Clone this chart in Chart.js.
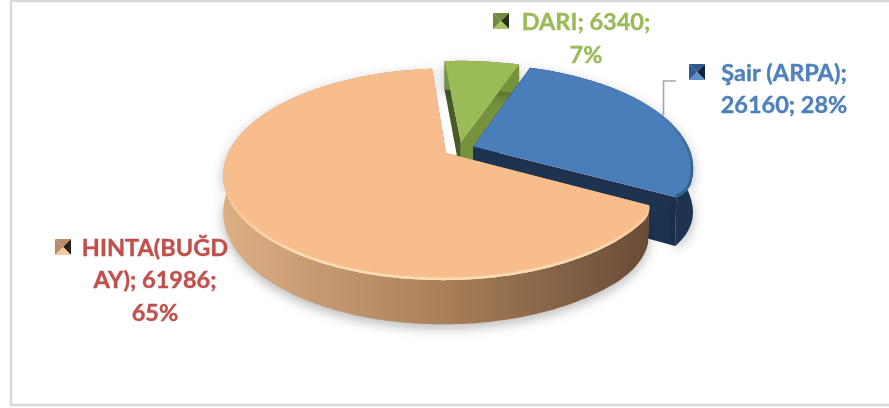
<!DOCTYPE html>
<html><head><meta charset="utf-8">
<style>html,body{margin:0;padding:0;background:#fff}canvas{display:block}</style>
<script src="https://cdn.jsdelivr.net/npm/chart.js@4"></script>
</head><body><canvas id="c" width="889" height="408"></canvas>
<script>
const categories = ['HINTA(BUĞDAY)', 'DARI', 'Şair (ARPA)'];
const values = [61986, 6340, 26160];
const percents = [65, 7, 28];
const labelLines = [
  ['HINTA(BUĞD', 'AY); 61986;', '65%'],
  ['DARI; 6340;', '7%'],
  ['Şair (ARPA);', '26160; 28%']
];
const startDegrees = 118.7;

const VIEW = {cx: 459, cy: 149, B: 216, A: 100, p: 0.2, T: 35};
const STYLE = [
  {top:'#f7bd8c', cut:'#a8825f', text:'#c0504d', rim:'#fddcb0', taper:[1,0], depth:1},
  {top:'#9bbb59', cut:'#76923c', cut2:'#4a5a25', text:'#9bbb59', rim:null, taper:[0,0], depth:1},
  {top:'#4a7ebb', cut:'#1d3350', text:'#4f81bd', rim:'#34618f', taper:[0,1], depth:1.28}
];
const LABELS = [
  {x:155, ys:[256,288,321], mx:55, my:239, dark:'#2b2118', mid:'#b98c67', hi:'#f7c99c'},
  {x:586, ys:[30,63], mx:493, my:13, dark:'#29331a', mid:'#6f8a3c', hi:'#a6c566'},
  {x:784, ys:[81,113], mx:689, my:64, dark:'#13233a', mid:'#2f5a8c', hi:'#5d8fc9'}
];

function proj(u, v, z) {
  const w = 1 - VIEW.p * v;
  return [VIEW.cx + VIEW.B * u / w, VIEW.cy + VIEW.A * v / w + (z || 0) * VIEW.T / w];
}
function rounded(a, start, end, taper, delta, k) {
  let r = 1;
  if (taper[0] && a - start < delta) r -= k * Math.pow(1 - (a - start) / delta, 2);
  if (taper[1] && end - a < delta) r -= k * Math.pow(1 - (end - a) / delta, 2);
  return r;
}
function slicePts(arc, i) {
  const mid = (arc.startAngle + arc.endAngle) / 2;
  const d = (arc.options.offset || 0) / arc.outerRadius;
  const ou = d * Math.cos(mid), ov = d * Math.sin(mid);
  const n = Math.max(16, Math.round((arc.endAngle - arc.startAngle) * 60));
  const rim = [], low = [], taper = STYLE[i].taper;
  for (let k = 0; k <= n; k++) {
    const a = arc.startAngle + (arc.endAngle - arc.startAngle) * k / n;
    const r1 = rounded(a, arc.startAngle, arc.endAngle, taper, 0.14, 0.03);
    const r2 = rounded(a, arc.startAngle, arc.endAngle, taper, 0.35, 0.035);
    rim.push([ou + r1 * Math.cos(a), ov + r1 * Math.sin(a)]);
    low.push([ou + r2 * Math.cos(a), ov + r2 * Math.sin(a)]);
  }
  return {apex: [ou, ov], rim, low};
}
function poly(ctx, pts) {
  ctx.beginPath();
  pts.forEach((q, i) => i ? ctx.lineTo(q[0], q[1]) : ctx.moveTo(q[0], q[1]));
  ctx.closePath();
}
function marker(ctx, L) {
  const s = 16, x = L.mx, y = L.my, c = [x + s/2, y + s/2];
  const tri = (a, b, col) => { poly(ctx, [a, b, c]); ctx.fillStyle = col; ctx.fill(); };
  tri([x,y],[x+s,y],L.mid);
  tri([x+s,y],[x+s,y+s],L.dark);
  tri([x,y+s],[x+s,y+s],L.hi);
  tri([x,y],[x,y+s],L.mid);
}
const pie3d = {
  id: 'pie3d',
  beforeDatasetsDraw(chart) {
    const ctx = chart.ctx, arcs = chart.getDatasetMeta(0).data;
    const slices = arcs.map(slicePts);
    ctx.save();
    // frame
    ctx.strokeStyle = '#d9d9d9'; ctx.lineWidth = 2.5;
    ctx.strokeRect(11, 1, 884, 404);
    // leader line
    ctx.strokeStyle = '#a6a6a6'; ctx.lineWidth = 1.6;
    ctx.beginPath(); ctx.moveTo(663.5,115); ctx.lineTo(663.5,81); ctx.lineTo(676,81); ctx.stroke();
    // painter order: back to front
    [1, 2, 0].forEach(i => {
      const S = slices[i], st = STYLE[i];
      const top = S.rim.map(q => proj(q[0], q[1], 0));
      const low = S.low.map(q => proj(q[0], q[1], st.depth));
      const a0 = proj(S.apex[0], S.apex[1], 0), a1 = proj(S.apex[0], S.apex[1], st.depth);
      // cut faces behind the wall
      const first = top[0], firstL = low[0], last = top[top.length-1], lastL = low[low.length-1];
      poly(ctx, [a0, first, firstL, a1]); ctx.fillStyle = (i === 1 ? st.cut2 : st.cut); ctx.fill();
      poly(ctx, [a0, last, lastL, a1]); ctx.fillStyle = st.cut; ctx.fill();
      // outer wall
      ctx.save();
      ctx.shadowColor = 'rgba(0,0,0,0.28)'; ctx.shadowBlur = 12; ctx.shadowOffsetY = 4;
      poly(ctx, top.concat(low.slice().reverse()));
      let g;
      if (i === 0) {
        g = ctx.createLinearGradient(225,0,660,0);
        g.addColorStop(0,'#dcae84'); g.addColorStop(0.5,'#a98059'); g.addColorStop(1,'#654835');
      } else g = st.cut;
      ctx.fillStyle = g; ctx.fill();
      ctx.restore();
      // top face
      poly(ctx, [a0].concat(top)); ctx.fillStyle = st.top; ctx.fill();
      // bevelled rim, on the front part only
      if (st.rim) {
        ctx.save();
        poly(ctx, [a0].concat(top)); ctx.clip();
        const grad = ctx.createLinearGradient(0, i === 0 ? 190 : 110, 0, i === 0 ? 250 : 170);
        grad.addColorStop(0, st.rim + '00'); grad.addColorStop(1, st.rim);
        ctx.beginPath();
        top.forEach((q, k) => k ? ctx.lineTo(q[0], q[1]) : ctx.moveTo(q[0], q[1]));
        ctx.strokeStyle = grad; ctx.lineWidth = 5; ctx.stroke();
        ctx.restore();
      }
    });
    // labels
    ctx.textAlign = 'center'; ctx.textBaseline = 'alphabetic';
    ctx.font = 'bold 23.5px Lato, Carlito, sans-serif';
    ctx.lineWidth = 0.4;
    labelLines.forEach((lines, i) => {
      const L = LABELS[i];
      ctx.fillStyle = STYLE[i].text; ctx.strokeStyle = STYLE[i].text;
      lines.forEach((t, k) => { ctx.fillText(t, L.x, L.ys[k]); ctx.strokeText(t, L.x, L.ys[k]); });
      marker(ctx, L);
    });
    ctx.restore();
    return false;
  }
};
new Chart(document.getElementById('c'), {
  type: 'pie',
  data: { labels: categories, datasets: [{ data: values, offset: 14, borderWidth: 0,
    backgroundColor: STYLE.map(s => s.top) }] },
  options: {
    responsive: false, animation: false, rotation: startDegrees,
    plugins: { legend: {display:false}, tooltip: {enabled:false} }
  },
  plugins: [pie3d]
});
</script></body></html>
